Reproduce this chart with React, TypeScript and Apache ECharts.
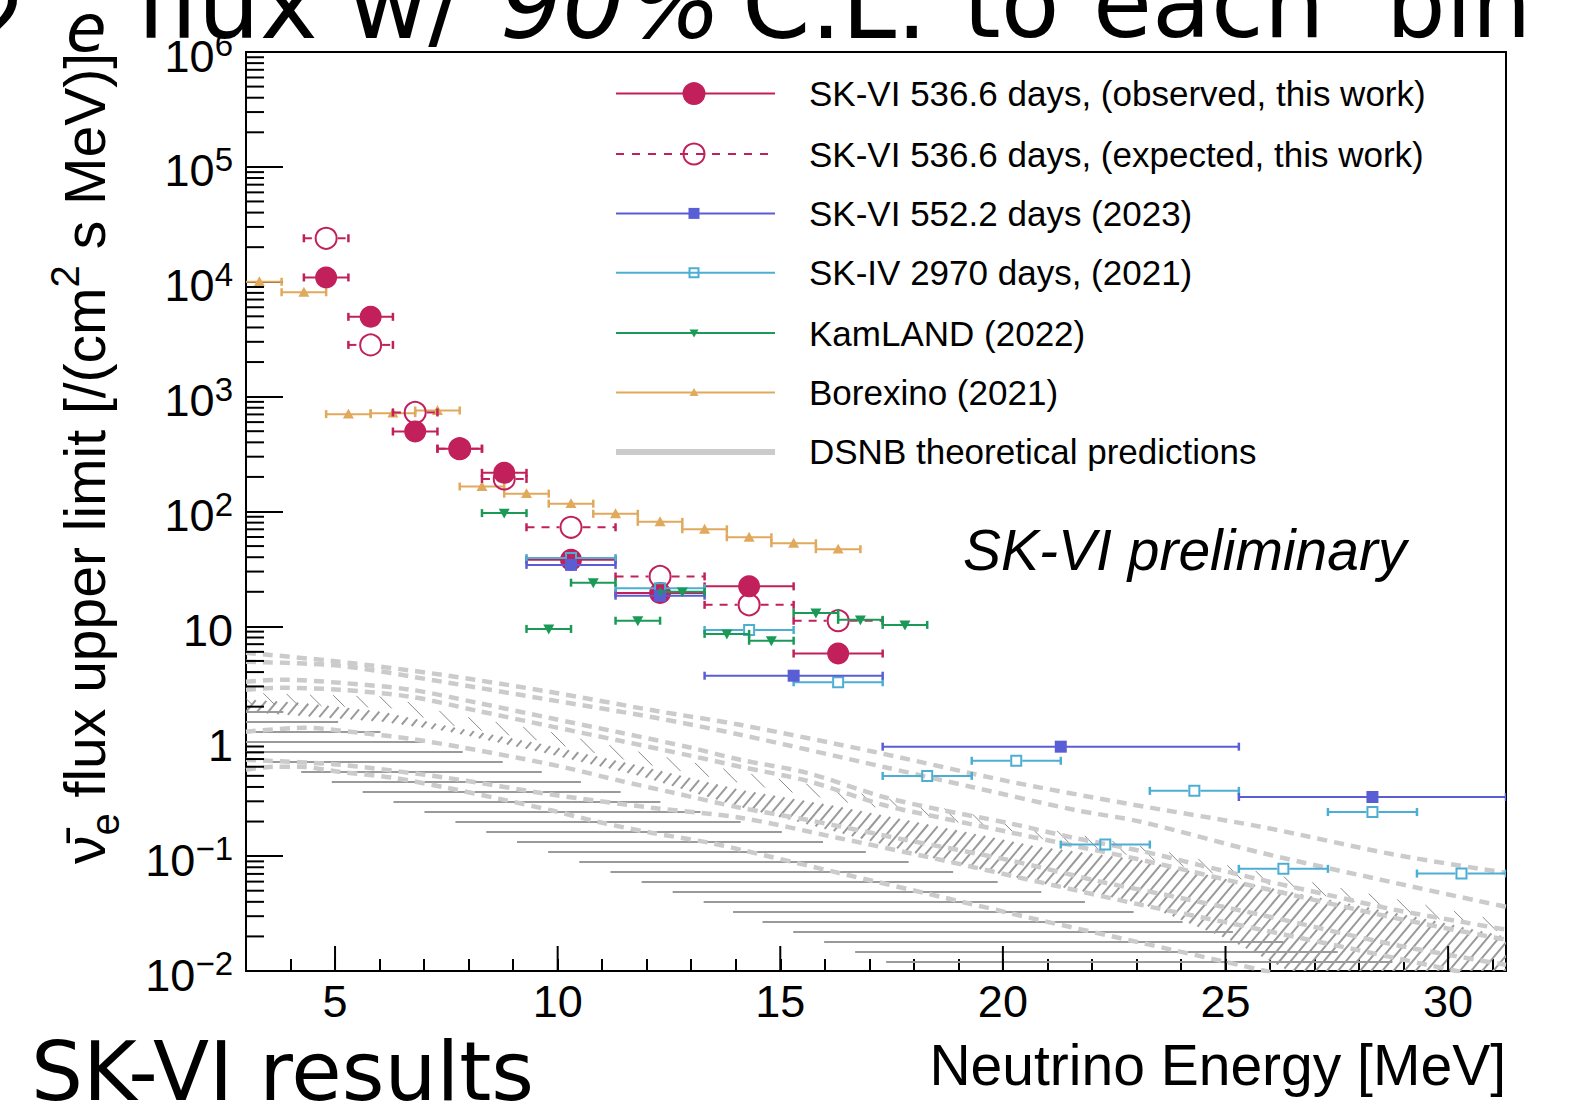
import React, { useEffect, useRef } from 'react';
import * as echarts from 'echarts';

const FONT = '"Liberation Sans", Arial, Helvetica, sans-serif';
const SLIDE_FONT = '"DejaVu Sans", Verdana, sans-serif';

// ---------- axes ----------
const X_MIN = 3;
const X_MAX = 31.3;
const Y_MIN = 0.01;
const Y_MAX = 1e6;
const xMajorTicks = [5, 10, 15, 20, 25, 30];
const yMinorTicks: number[] = [];
for (let e = -2; e < 6; e++) for (let m = 2; m <= 9; m++) yMinorTicks.push(m * Math.pow(10, e));

// ---------- SK-VI 536.6 days (this work) ----------
const skviBinLow = [4.3, 5.3, 6.3, 7.3, 8.3, 9.3, 11.3, 13.3, 15.3];
const skviBinHigh = [5.3, 6.3, 7.3, 8.3, 9.3, 11.3, 13.3, 15.3, 17.3];
const skviObserved = [10900, 4950, 497, 352, 217, 38, 19.5, 22.3, 5.8];
const skviExpected = [23900, 2820, 728, 352, 192, 72.9, 27.2, 15.4, 11.2];

// ---------- SK-VI 552.2 days (2023) ----------
const sk6y2023Low = [9.3, 11.3, 13.3, 17.3, 25.3];
const sk6y2023High = [11.3, 13.3, 17.3, 25.3, 31.3];
const sk6y2023Limit = [34.3, 18.5, 3.72, 0.897, 0.327];

// ---------- SK-IV 2970 days (2021) ----------
const sk4Low = [9.3, 11.3, 13.3, 15.3, 17.3, 19.3, 21.3, 23.3, 25.3, 27.3, 29.3];
const sk4High = [11.3, 13.3, 15.3, 17.3, 19.3, 21.3, 23.3, 25.3, 27.3, 29.3, 31.3];
const sk4Limit = [39.3, 21.5, 9.3, 3.26, 0.499, 0.676, 0.126, 0.37, 0.0775, 0.242, 0.0705];

// ---------- KamLAND (2022) ----------
const kamlandLow = [8.3, 9.3, 10.3, 11.3, 12.3, 13.3, 14.3, 15.3, 16.3, 17.3];
const kamlandHigh = [9.3, 10.3, 11.3, 12.3, 13.3, 14.3, 15.3, 16.3, 17.3, 18.3];
const kamlandLimit = [96.8, 9.5, 24, 11.2, 20, 8.6, 7.5, 13.1, 11.4, 10.3];

// ---------- Borexino (2021) ----------
const borexinoLow = [2.8, 3.8, 4.8, 5.8, 6.8, 7.8, 8.8, 9.8, 10.8, 11.8, 12.8, 13.8, 14.8, 15.8];
const borexinoHigh = [3.8, 4.8, 5.8, 6.8, 7.8, 8.8, 9.8, 10.8, 11.8, 12.8, 13.8, 14.8, 15.8, 16.8];
const borexinoLimit = [10000, 8100, 704, 718, 757, 165, 143, 117, 95.5, 81.3, 70, 59.7, 52.9, 47];

// ---------- DSNB theoretical predictions (dashed curves) ----------
const theoryE1 = [3.0, 5.1, 7.4, 9.8, 12.2, 14.1, 17.1, 20.1, 22.8, 25.8, 28.8, 31.3];
const theoryF1 = [5.89, 4.92, 3.79, 2.7, 1.84, 1.39, 0.81, 0.45, 0.286, 0.18, 0.103, 0.0716];
const theoryE2 = [3.0, 5.1, 7.4, 9.8, 12.2, 14.1, 17.3, 19.3, 21.6, 23.1, 25.8, 28.8, 31.3];
const theoryF2 = [4.92, 4.54, 3.3, 2.3, 1.6, 1.14, 0.6, 0.4, 0.253, 0.199, 0.107, 0.0586, 0.0362];
const theoryE3 = [3.0, 3.8, 5.1, 6.7, 8.2, 9.8, 11.4, 13.0, 14.1, 15.6, 17.3, 18.6, 20.1, 21.6, 23.1, 24.4, 25.8, 27.3, 28.8, 30.3, 31.3];
const theoryF3 = [3.3, 3.43, 3.23, 2.81, 2.16, 1.6, 1.19, 0.877, 0.69, 0.531, 0.329, 0.253, 0.195, 0.144, 0.111, 0.0839, 0.0622, 0.046, 0.0341, 0.0268, 0.0229];
const theoryE4 = [3.0, 3.8, 5.1, 6.7, 8.2, 9.8, 11.4, 13.0, 14.1, 15.6, 17.3, 18.6, 20.1, 21.6, 23.1, 25.8, 28.8, 31.3];
const theoryF4 = [2.81, 2.92, 2.81, 2.44, 1.84, 1.36, 1.01, 0.746, 0.6, 0.453, 0.28, 0.216, 0.163, 0.123, 0.0929, 0.053, 0.029, 0.0187];
const theoryE5 = [3.0, 4.3, 5.5, 6.7, 7.9, 9.1, 10.2, 11.4, 12.6, 14.1, 15.6, 17.8, 20.1, 22.3, 23.1, 25.8, 28.8, 31.3];
const theoryF5 = [1.21, 1.31, 1.19, 1.05, 0.877, 0.718, 0.587, 0.453, 0.356, 0.264, 0.207, 0.139, 0.0929, 0.0586, 0.0509, 0.0308, 0.0169, 0.0113];
const theoryE6 = [3.0, 3.6, 4.2, 5.1, 6.3, 7.5, 8.7, 9.9, 11.0, 12.1, 13.4, 14.1, 16.3, 18.6, 20.8, 23.1, 25.3, 26.0];
const theoryF6 = [0.565, 0.6, 0.6, 0.542, 0.481, 0.394, 0.315, 0.248, 0.195, 0.16, 0.131, 0.114, 0.0716, 0.0443, 0.0279, 0.0176, 0.0113, 0.0098];
const theoryE7 = [3.0, 5.1, 7.5, 9.9, 12.1, 14.1, 16.3, 18.6, 20.8, 23.1, 25.8, 28.8, 30.3];
const theoryF7 = [0.69, 0.624, 0.481, 0.342, 0.264, 0.216, 0.144, 0.0929, 0.0597, 0.0377, 0.0229, 0.013, 0.0098];
const theoryCurvesE = [theoryE1, theoryE2, theoryE3, theoryE4, theoryE5, theoryE6, theoryE7];
const theoryCurvesF = [theoryF1, theoryF2, theoryF3, theoryF4, theoryF5, theoryF6, theoryF7];

// ---------- DSNB theoretical bands (hatched) ----------
// band with horizontal hatching
const bandHUpperE = [3.0, 3.83, 5.04, 6.95, 8.75, 10.5, 12.29, 14.09, 15.95, 17.86, 19.86, 21.9, 24.12, 26.39, 28.84, 29.8, 31.3];
const bandHUpperF = [1.95, 1.8, 1.48, 0.989, 0.662, 0.444, 0.297, 0.199, 0.133, 0.0893, 0.0598, 0.0394, 0.0263, 0.0176, 0.0118, 0.01, 0.0071];
const bandHLowerE = [3.0, 3.54, 4.91, 6.3, 7.69, 9.08, 10.47, 11.87, 13.26, 14.65, 16.04, 17.43, 18.02, 31.3];
const bandHLowerF = [0.778, 0.662, 0.444, 0.297, 0.199, 0.133, 0.0893, 0.0598, 0.0401, 0.0263, 0.0176, 0.0118, 0.01, 0.00022];
// band with "/" hatching
const bandAUpperE = [3.0, 4.21, 6.08, 7.58, 9.6, 11.84, 14.09, 16.33, 18.58, 20.82, 23.07, 25.09, 27.33, 29.58, 31.3];
const bandAUpperF = [2.3, 2.16, 1.8, 1.34, 0.951, 0.611, 0.378, 0.269, 0.18, 0.12, 0.0929, 0.0622, 0.0417, 0.0279, 0.0199];
const bandALowerE = [3.0, 4.21, 6.08, 7.58, 9.6, 11.84, 14.09, 16.33, 18.58, 20.82, 23.07, 25.09, 26.43, 31.3];
const bandALowerF = [1.8, 1.67, 1.48, 1.21, 0.809, 0.5, 0.269, 0.16, 0.0929, 0.0586, 0.0392, 0.0187, 0.01, 0.001];
// narrow band with "\" hatching
const bandBE = [3.0, 6.23, 7.58, 9.6, 11.84, 14.09, 16.33, 18.58, 20.82, 23.07, 25.09, 27.33, 29.58, 31.3];
const bandBUpperF = [2.64, 2.44, 1.73, 1.26, 0.809, 0.542, 0.378, 0.264, 0.177, 0.123, 0.0824, 0.0552, 0.0369, 0.0268];
const bandBLowerF = [2.11, 1.95, 1.38, 1.01, 0.647, 0.434, 0.302, 0.211, 0.142, 0.098, 0.0659, 0.0442, 0.0295, 0.0214];

// ---------- colours ----------
const C_OBS = '#c1205a';
const C_BLUE = '#5a5ed4';
const C_LBLUE = '#4caed3';
const C_GREEN = '#1b9a57';
const C_ORANGE = '#e0a95c';
const C_THEORY = '#cbcbcb';
const C_HATCH = '#9a9a9a';

type Marker = 'circle' | 'openCircle' | 'square' | 'openSquare' | 'triDown' | 'triUp';

function markerElement(kind: Marker, x: number, y: number, color: string, size: number): any {
  const h = size / 2;
  switch (kind) {
    case 'circle':
      return { type: 'circle', shape: { cx: x, cy: y, r: h }, style: { fill: color } };
    case 'openCircle':
      return { type: 'circle', shape: { cx: x, cy: y, r: h - 1 }, style: { fill: 'none', stroke: color, lineWidth: 2 } };
    case 'square':
      return { type: 'rect', shape: { x: x - h, y: y - h, width: size, height: size }, style: { fill: color } };
    case 'openSquare':
      return { type: 'rect', shape: { x: x - h + 1, y: y - h + 1, width: size - 2, height: size - 2 }, style: { fill: 'none', stroke: color, lineWidth: 2 } };
    case 'triDown':
      return { type: 'polygon', shape: { points: [[x - h, y - h * 0.8], [x + h, y - h * 0.8], [x, y + h]] }, style: { fill: color } };
    case 'triUp':
    default:
      return { type: 'polygon', shape: { points: [[x - h, y + h * 0.8], [x + h, y + h * 0.8], [x, y - h]] }, style: { fill: color } };
  }
}

function barSeries(name: string, lo: number[], hi: number[], vals: number[], color: string, kind: Marker, size: number, dashed: boolean, z: number): any {
  const data = vals.map((v, i) => [(lo[i] + hi[i]) / 2, v, lo[i], hi[i]]);
  const gap = kind === 'openCircle' || kind === 'openSquare' ? size / 2 : 0;
  return {
    type: 'custom',
    name,
    z,
    clip: true,
    silent: true,
    data,
    encode: { x: 0, y: 1 },
    renderItem: (params: any, api: any) => {
      const yv = api.value(1);
      const c = api.coord([api.value(0), yv]);
      const l = api.coord([api.value(2), yv]);
      const r = api.coord([api.value(3), yv]);
      const ls: any = { stroke: color, lineWidth: 2 };
      if (dashed) ls.lineDash = [8, 7];
      const children: any[] = [];
      if (gap > 0) {
        children.push({ type: 'line', shape: { x1: l[0], y1: c[1], x2: c[0] - gap, y2: c[1] }, style: ls });
        children.push({ type: 'line', shape: { x1: c[0] + gap, y1: c[1], x2: r[0], y2: c[1] }, style: ls });
      } else {
        children.push({ type: 'line', shape: { x1: l[0], y1: c[1], x2: r[0], y2: c[1] }, style: ls });
      }
      children.push({ type: 'line', shape: { x1: l[0], y1: c[1] - 4, x2: l[0], y2: c[1] + 4 }, style: { stroke: color, lineWidth: 2.5 } });
      children.push({ type: 'line', shape: { x1: r[0], y1: c[1] - 4, x2: r[0], y2: c[1] + 4 }, style: { stroke: color, lineWidth: 2.5 } });
      children.push(markerElement(kind, c[0], c[1], color, size));
      return { type: 'group', children };
    },
  };
}

function hatchSegments(poly: number[][], angleDeg: number, spacing: number, offset: number): number[][] {
  const a = (angleDeg * Math.PI) / 180;
  const dx = Math.cos(a);
  const dy = -Math.sin(a);
  const nx = -dy;
  const ny = dx;
  let tmin = Infinity;
  let tmax = -Infinity;
  for (const p of poly) {
    const t = p[0] * nx + p[1] * ny;
    if (t < tmin) tmin = t;
    if (t > tmax) tmax = t;
  }
  const segs: number[][] = [];
  for (let t = Math.ceil((tmin - offset) / spacing) * spacing + offset; t <= tmax; t += spacing) {
    const us: number[] = [];
    for (let i = 0; i < poly.length; i++) {
      const A = poly[i];
      const B = poly[(i + 1) % poly.length];
      const ta = A[0] * nx + A[1] * ny;
      const tb = B[0] * nx + B[1] * ny;
      if ((ta <= t && tb > t) || (tb <= t && ta > t)) {
        const s = (t - ta) / (tb - ta);
        const px = A[0] + s * (B[0] - A[0]);
        const py = A[1] + s * (B[1] - A[1]);
        us.push(px * dx + py * dy);
      }
    }
    us.sort((p, q) => p - q);
    for (let k = 0; k + 1 < us.length; k += 2) {
      segs.push([t * nx + us[k] * dx, t * ny + us[k] * dy, t * nx + us[k + 1] * dx, t * ny + us[k + 1] * dy]);
    }
  }
  return segs;
}

function hatchSeries(upE: number[], upF: number[], loE: number[], loF: number[], angle: number, spacing: number, width: number, color: string, offset: number): any {
  return {
    type: 'custom',
    z: 1,
    clip: true,
    silent: true,
    data: upE.map((e, i) => [e, upF[i]]),
    renderItem: (params: any, api: any) => {
      if (params.dataIndex !== 0) return null;
      const poly: number[][] = [];
      upE.forEach((e, i) => poly.push(api.coord([e, upF[i]])));
      for (let i = loE.length - 1; i >= 0; i--) poly.push(api.coord([loE[i], loF[i]]));
      const segs = hatchSegments(poly, angle, spacing, offset);
      return {
        type: 'group',
        children: segs.map((s) => ({ type: 'line', shape: { x1: s[0], y1: s[1], x2: s[2], y2: s[3] }, style: { stroke: color, lineWidth: width } })),
      };
    },
  };
}

function yLabel(v: number): string {
  const e = Math.round(Math.log10(v));
  if (e === 0) return '{b|1}';
  if (e === 1) return '{b|10}';
  return '{b|10}{s|' + (e < 0 ? '\u2212' + -e : String(e)) + '}';
}

const legendRowsY = [93.6, 154, 213.4, 272.7, 333.1, 392.5, 451.9];

function slideText(text: string, x: number, y: number, size: number, italic: boolean): any {
  return {
    type: 'text', x, y, z: 101,
    style: { text, fontFamily: SLIDE_FONT, fontSize: size, fontStyle: italic ? 'italic' : 'normal', fill: '#000', align: 'left', verticalAlign: 'middle' },
  };
}

function buildGraphic(): any[] {
  const g: any[] = [];
  const x1 = 616;
  const x2 = 775;
  const mx = 694;
  const rows: { label: string; color: string; kind: Marker | null; size: number; dashed?: boolean; width?: number }[] = [
    { label: 'SK-VI 536.6 days, (observed, this work)', color: C_OBS, kind: 'circle', size: 23 },
    { label: 'SK-VI 536.6 days, (expected, this work)', color: C_OBS, kind: 'openCircle', size: 23, dashed: true },
    { label: 'SK-VI 552.2 days (2023)', color: C_BLUE, kind: 'square', size: 11 },
    { label: 'SK-IV 2970 days, (2021)', color: C_LBLUE, kind: 'openSquare', size: 11 },
    { label: 'KamLAND (2022)', color: C_GREEN, kind: 'triDown', size: 9 },
    { label: 'Borexino (2021)', color: C_ORANGE, kind: 'triUp', size: 9 },
    { label: 'DSNB theoretical predictions', color: C_THEORY, kind: null, size: 0, width: 6 },
  ];
  rows.forEach((row, i) => {
    const y = legendRowsY[i];
    const st: any = { stroke: row.color, lineWidth: row.width || 2 };
    if (row.dashed) st.lineDash = [8, 8];
    g.push({ type: 'line', shape: { x1, y1: y, x2, y2: y }, style: st, z: 100 });
    if (row.kind) g.push({ ...markerElement(row.kind, mx, y, row.color, row.size), z: 101 });
    g.push({
      type: 'text', x: 809, y, z: 101,
      style: { text: row.label, fontFamily: FONT, fontSize: 35, fill: '#000', align: 'left', verticalAlign: 'middle' },
    });
  });
  // SK-VI preliminary
  g.push({
    type: 'text', x: 963, y: 550, z: 101,
    style: { text: 'SK-VI preliminary', fontFamily: FONT, fontSize: 57, fontStyle: 'italic', fill: '#000', align: 'left', verticalAlign: 'middle' },
  });
  // x axis title
  g.push({
    type: 'text', x: 1506, y: 1065, z: 101,
    style: { text: 'Neutrino Energy [MeV]', fontFamily: FONT, fontSize: 57, fill: '#000', align: 'right', verticalAlign: 'middle' },
  });
  // y axis title (rotated)
  g.push({
    type: 'text', x: 85, y: 53, rotation: Math.PI / 2, z: 101,
    style: {
      text: '{b|\u03bd\u0304}{sub|e}{b| flux upper limit [/(cm}{sup|2}{b| s MeV)]}',
      fontFamily: FONT, fontSize: 57, fill: '#000', align: 'right', verticalAlign: 'middle',
      rich: {
        b: { fontFamily: FONT, fontSize: 57, lineHeight: 80, fill: '#000' },
        sub: { fontFamily: FONT, fontSize: 40, lineHeight: 40, verticalAlign: 'bottom', fill: '#000' },
        sup: { fontFamily: FONT, fontSize: 40, lineHeight: 60, verticalAlign: 'top', fill: '#000' },
      },
    },
  });
  // slide texts (cut by the page edges, as in the slide)
  g.push(slideText('SK-VI results', 31, 1071, 82, false));
  g.push(slideText('\u03bd\u0304', -36, 4, 100, true));
  g.push(slideText('e', 66, 28, 66, true));
  g.push(slideText('flux', 136, 4, 98, false));
  g.push(slideText('w/', 348, 4, 98, false));
  g.push(slideText('90', 500, 4, 98, true));
  g.push(slideText('%', 628, 4, 98, true));
  g.push(slideText('C.L.', 742, 4, 98, false));
  g.push(slideText('to', 963, 4, 96, false));
  g.push(slideText('each', 1093, 4, 96, false));
  g.push(slideText('bin', 1386, 4, 94, false));
  return g;
}

function buildOption(): any {
  const theorySeries = theoryCurvesE.map((es, k) => ({
    type: 'line',
    z: 2,
    silent: true,
    clip: true,
    smooth: 0.3,
    showSymbol: false,
    symbol: 'none',
    data: es.map((e, i) => [e, theoryCurvesF[k][i]]),
    lineStyle: { color: C_THEORY, width: 4.5, type: [10, 7] },
  }));

  const tickSeriesX = {
    type: 'custom',
    z: 20,
    silent: true,
    clip: false,
    data: xMajorTicks.map((v) => [v, Y_MIN]),
    renderItem: (params: any, api: any) => {
      const p = api.coord([api.value(0), api.value(1)]);
      return { type: 'line', shape: { x1: p[0], y1: p[1], x2: p[0], y2: p[1] - 25 }, style: { stroke: '#000', lineWidth: 2 } };
    },
  };
  const tickSeriesY = {
    type: 'custom',
    z: 20,
    silent: true,
    clip: false,
    data: yMinorTicks.map((v) => [X_MIN, v]),
    renderItem: (params: any, api: any) => {
      const p = api.coord([api.value(0), api.value(1)]);
      return { type: 'line', shape: { x1: p[0], y1: p[1], x2: p[0] + 18, y2: p[1] }, style: { stroke: '#000', lineWidth: 2 } };
    },
  };

  return {
    animation: false,
    backgroundColor: '#ffffff',
    grid: {
      left: 246, top: 52, width: 1260, height: 919,
      show: true, borderColor: '#000', borderWidth: 2, backgroundColor: 'transparent',
      outerBoundsMode: 'none',
    },
    xAxis: {
      type: 'value',
      min: X_MIN,
      max: X_MAX,
      interval: 1,
      axisLine: { show: true, lineStyle: { color: '#000', width: 2 } },
      axisTick: { show: true, inside: true, length: 12, lineStyle: { color: '#000', width: 2 } },
      axisLabel: {
        color: '#000', fontFamily: FONT, fontSize: 45, margin: 8,
        formatter: (v: number) => (Math.abs(v % 5) < 1e-6 ? String(Math.round(v)) : ''),
      },
      splitLine: { show: false },
    },
    yAxis: {
      type: 'log',
      logBase: 10,
      min: Y_MIN,
      max: Y_MAX,
      splitNumber: 8,
      axisLine: { show: true, lineStyle: { color: '#000', width: 2 } },
      axisTick: { show: true, inside: true, length: 37, lineStyle: { color: '#000', width: 2 } },
      axisLabel: {
        color: '#000', fontFamily: FONT, margin: 13, padding: [8, 0, 0, 0],
        formatter: yLabel,
        rich: {
          b: { fontFamily: FONT, fontSize: 45, lineHeight: 56, color: '#000' },
          s: { fontFamily: FONT, fontSize: 33, lineHeight: 28, verticalAlign: 'top', color: '#000' },
        },
      },
      splitLine: { show: false },
      minorTick: { show: false },
    },
    series: [
      hatchSeries(bandHUpperE, bandHUpperF, bandHLowerE, bandHLowerF, 0, 10, 2, C_HATCH, 2),
      hatchSeries(bandAUpperE, bandAUpperF, bandALowerE, bandALowerF, 50, 8.5, 2, C_HATCH, 0),
      hatchSeries(bandBE, bandBUpperF, bandBE, bandBLowerF, 135, 16, 1, '#8a8a8a', 0),
      ...theorySeries,
      barSeries('Borexino (2021)', borexinoLow, borexinoHigh, borexinoLimit, C_ORANGE, 'triUp', 11, false, 5),
      barSeries('SK-VI expected', skviBinLow, skviBinHigh, skviExpected, C_OBS, 'openCircle', 23, true, 6),
      barSeries('SK-VI observed', skviBinLow, skviBinHigh, skviObserved, C_OBS, 'circle', 22, false, 7),
      barSeries('SK-IV 2970 days', sk4Low, sk4High, sk4Limit, C_LBLUE, 'openSquare', 12, false, 8),
      barSeries('SK-VI 552.2 days', sk6y2023Low, sk6y2023High, sk6y2023Limit, C_BLUE, 'square', 12, false, 9),
      barSeries('KamLAND (2022)', kamlandLow, kamlandHigh, kamlandLimit, C_GREEN, 'triDown', 11, false, 10),
      tickSeriesX,
      tickSeriesY,
    ],
    graphic: buildGraphic(),
  };
}

export default function App() {
  const ref = useRef<HTMLDivElement>(null);
  useEffect(() => {
    if (!ref.current) return;
    const chart = echarts.init(ref.current, undefined, { renderer: 'svg' });
    chart.setOption(buildOption());
    return () => {
      chart.dispose();
    };
  }, []);
  return (
    <div
      ref={ref}
      style={{ position: 'absolute', left: 0, top: 0, width: 1578, height: 1106, background: '#fff', overflow: 'hidden' }}
    />
  );
}
